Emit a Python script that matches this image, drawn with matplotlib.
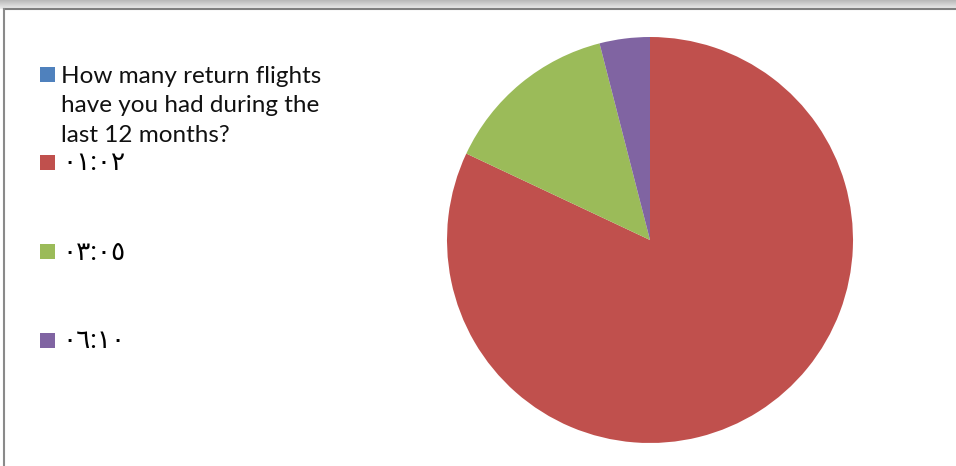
import matplotlib
matplotlib.use("Agg")
import matplotlib.pyplot as plt
from matplotlib.patches import Rectangle
import numpy as np

plt.rcParams['font.family'] = ['Lato', 'DejaVu Sans']

# Survey answers and counts
categories = ["How many return flights\nhave you had during the\nlast 12 months?",
              "٠١:٠٢", "٠٣:٠٥", "٠٦:١٠"]
counts = [0, 41, 7, 2]
colors = ["#4F81BD", "#C0504D", "#9BBB59", "#8064A2"]

W, H = 956, 466
fig = plt.figure(figsize=(W / 100, H / 100), dpi=100)
fig.patch.set_facecolor("white")

# grey gradient strip along the top edge and the chart frame
grad = fig.add_axes([0, 1 - 9 / H, 1, 9 / H])
grad.imshow(np.linspace(0.72, 0.93, 50).reshape(-1, 1), cmap="gray", aspect="auto",
            vmin=0, vmax=1, extent=[0, 1, 0, 1])
grad.axis("off")
fig.add_artist(plt.Line2D([4 / W, 1], [1 - 9 / H, 1 - 9 / H], color="#7f7f7f", lw=1.5,
                          transform=fig.transFigure))
fig.add_artist(plt.Line2D([4 / W, 4 / W], [0, 1 - 9 / H], color="#8a8a8a", lw=1.5,
                          transform=fig.transFigure))

# pie
cx, cy, r = 650, 240, 203
ax = fig.add_axes([(cx - r) / W, (H - cy - r) / H, 2 * r / W, 2 * r / H])
vals = [v for v in counts if v > 0]
cols = [c for v, c in zip(counts, colors) if v > 0]
ax.pie(vals, colors=cols, startangle=90, counterclock=False, radius=1,
       wedgeprops=dict(linewidth=0))
ax.set_xlim(-1, 1)
ax.set_ylim(-1, 1)
ax.set_aspect("equal")
ax.axis("off")

# legend
ys = [74, 162, 251, 340]
for i, (lab, col, y) in enumerate(zip(categories, colors, ys)):
    fig.add_artist(Rectangle((40 / W, (H - y - 7.5) / H), 15 / W, 15 / H,
                             facecolor=col, edgecolor="none", transform=fig.transFigure))
    if i == 0:
        fig.text(61 / W, (H - y + 8) / H, lab, fontsize=17.5, va="top", ha="left",
                 linespacing=1.5, color="#111111")
    else:
        fig.text(62 / W, (H - y - 1) / H, lab, fontsize=19, va="center", ha="left",
                 color="black")

fig.savefig("out.png", dpi=100)
